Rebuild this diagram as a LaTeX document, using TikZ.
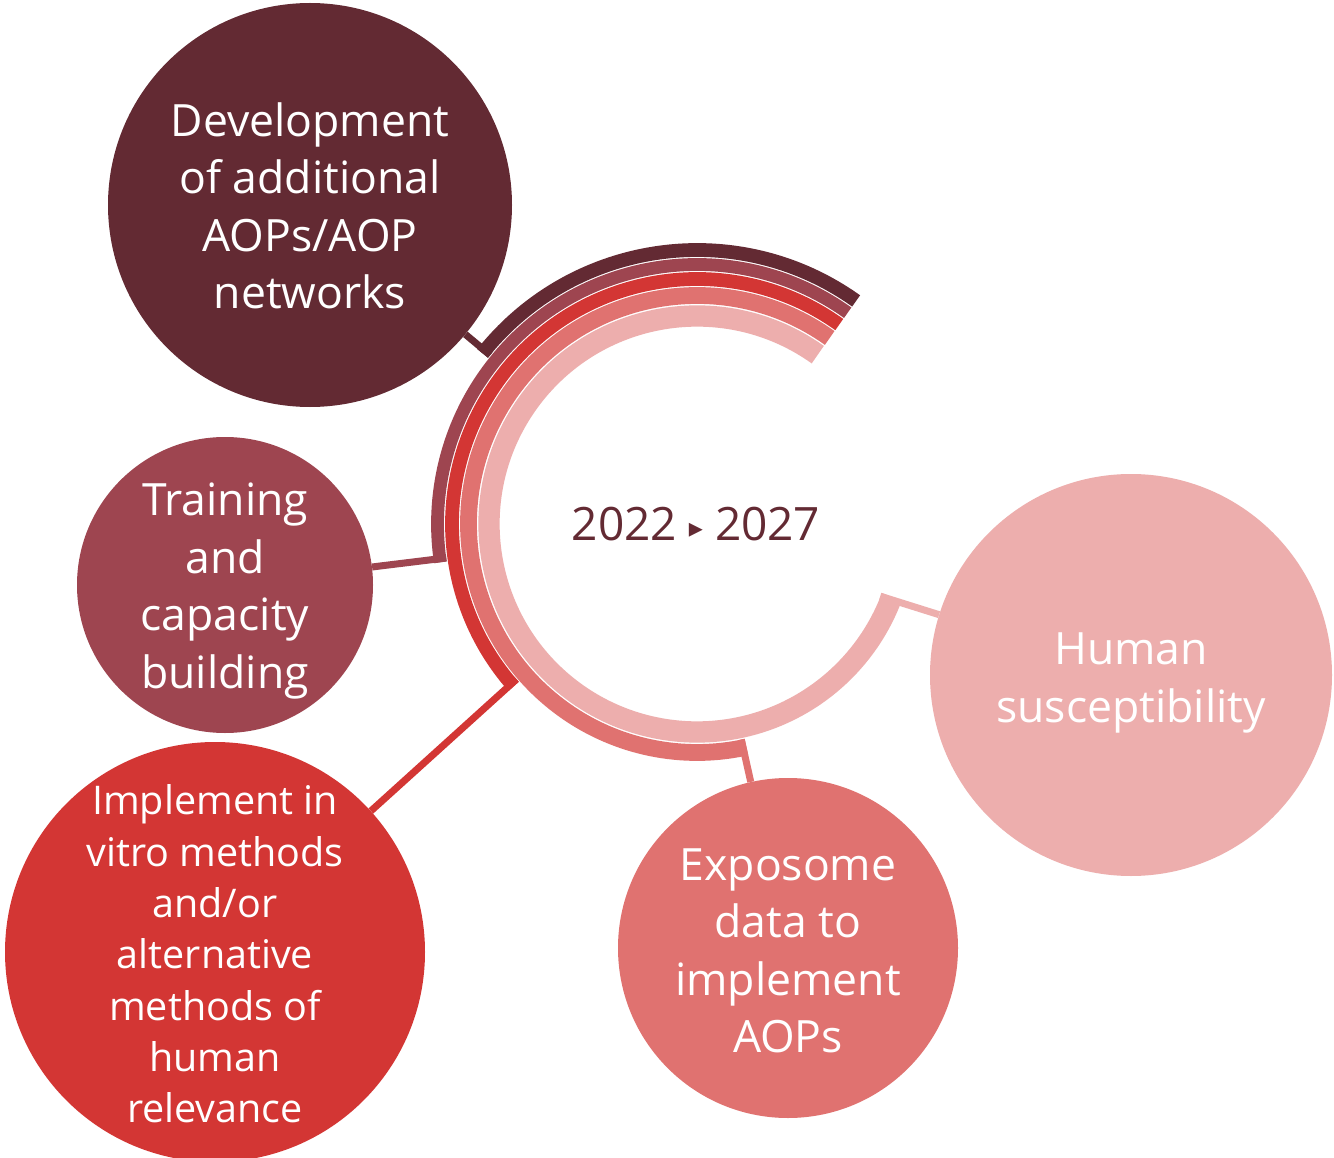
\documentclass[tikz,border=0pt]{standalone}
\usepackage{fontspec}
\setmainfont{Open Sans}
\newfontfamily\symfont{DejaVu Sans}
\usetikzlibrary{calc}
\definecolor{cdark}{HTML}{632A33}
\definecolor{cmauve}{HTML}{9E4550}
\definecolor{cred}{HTML}{D33634}
\definecolor{csalmon}{HTML}{E07270}
\definecolor{cpink}{HTML}{EDAEAD}
\begin{document}
\begin{tikzpicture}[x=1pt,y=1pt,
  bubble/.style={circle, inner sep=0pt, draw=none},
  bubbletext/.style={text=white, align=center, inner sep=0pt, font=\fontsize{44.5}{57.5}\selectfont},
  ringarc/.style={line cap=butt},
  link/.style={line width=7pt, line cap=butt}]
\useasboundingbox (0,0) rectangle (1334,-1158);
\fill[white] (0,0) rectangle (1334,-1158);
\coordinate (C) at (697,-524);
% rings
\draw[ringarc, cdark, line width=13.8pt] ($(C)+(54.5:274)$) arc[start angle=54.5, end angle=141.5, radius=274pt];
\draw[ringarc, cmauve, line width=12.8pt] ($(C)+(54.5:259.5)$) arc[start angle=54.5, end angle=188.5, radius=259.5pt];
\draw[ringarc, cred, line width=13.8pt] ($(C)+(54.5:245)$) arc[start angle=54.5, end angle=221.5, radius=245pt];
\draw[ringarc, csalmon, line width=16.8pt] ($(C)+(54.5:228.5)$) arc[start angle=54.5, end angle=282.5, radius=228.5pt];
\draw[ringarc, cpink, line width=21.3pt] ($(C)+(54.5:208)$) arc[start angle=54.5, end angle=339.5, radius=208pt];
% connector starts
\coordinate (s1) at ($(C)+(140.75:267)$);
\coordinate (s2) at ($(C)+(187.7:253)$);
\coordinate (s3) at ($(C)+(220.7:238)$);
\coordinate (s4) at ($(C)+(281.6:220)$);
\coordinate (s5) at ($(C)+(338.5:197)$);
% bubbles
\node[bubble, fill=cdark, minimum size=404pt] (dev) at (310,-205) {};
\node[bubble, fill=cmauve, minimum size=296pt] (train) at (225,-585) {};
\node[bubble, fill=cred, minimum size=420pt] (impl) at (215,-952) {};
\node[bubble, fill=csalmon, minimum size=340pt] (expo) at (788,-948) {};
\node[bubble, fill=cpink, minimum size=402pt] (human) at (1131,-675) {};
% connectors
\draw[link, cdark] (s1) -- (dev);
\draw[link, cmauve] (s2) -- (train);
\draw[link, cred] (s3) -- (impl);
\draw[link, csalmon] (s4) -- (expo);
\draw[link, cpink] (s5) -- (human);
% texts
\node[bubbletext] (devt) at (310,-206) {Development\\of additional\\AOPs/AOP\\networks};
\node[bubbletext] (traint) at (225,-591) {Training\\and\\capacity\\building};
\node[bubbletext, font=\fontsize{39.5}{51.3}\selectfont] (implt) at (215,-954) {Implement in\\vitro methods\\and/or\\alternative\\methods of\\human\\relevance};
\node[bubbletext] (expot) at (788,-951) {Exposome\\data to\\implement\\AOPs};
\node[bubbletext] (humant) at (1131,-683) {Human\\susceptibility};
\node[text=cdark, inner sep=0pt, font=\fontsize{46}{50}\selectfont] (years) at (696,-524.5) {2022\hspace{12pt}\raisebox{3pt}{\symfont\fontsize{28}{28}\selectfont ▸}\hspace{12pt}2027};
\end{tikzpicture}
\end{document}
